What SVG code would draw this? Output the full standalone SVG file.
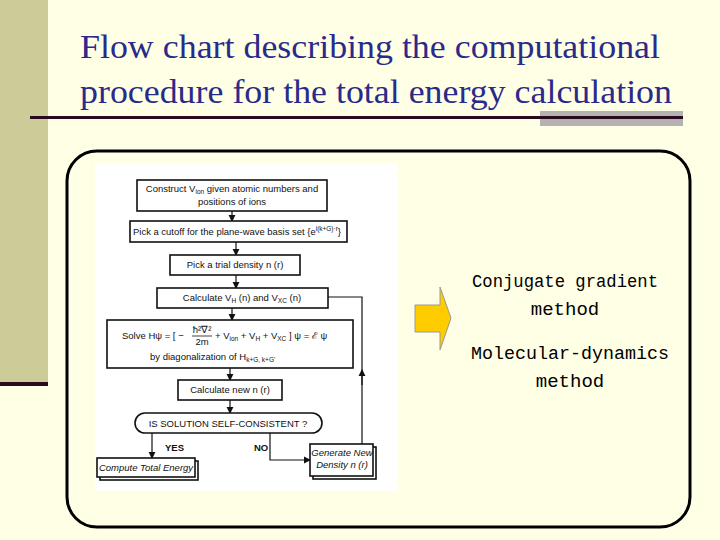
<svg xmlns="http://www.w3.org/2000/svg" width="720" height="540" viewBox="0 0 720 540">
<defs>
<style>
.t{font-family:"Liberation Serif",serif;font-size:34px;fill:#2a2a8a}
.f{font-family:"Liberation Sans",Arial,sans-serif;font-size:9.5px;fill:#111}
.s{font-size:6.5px}
.b{fill:#fff;stroke:#111;stroke-width:1.6}
.c{stroke:#111;stroke-width:1.2;fill:none}
.r{font-family:"Liberation Mono",monospace;font-size:19px;fill:#000}
</style>
<marker id="a" viewBox="0 0 8 8" refX="7" refY="4" markerWidth="6" markerHeight="6" orient="auto"><path d="M0,0L8,4L0,8z" fill="#111"/></marker>
</defs>
<rect width="720" height="540" fill="#ffffe6"/>
<rect x="0" y="0" width="48" height="385" fill="#cccc99"/>
<rect x="0" y="382" width="48" height="4" fill="#2b0a1e"/>
<rect x="540" y="111" width="143" height="15" fill="#b3b3b3"/>
<rect x="30" y="116" width="653" height="3" fill="#2b0a1e"/>
<text class="t" x="80" y="58" textLength="580" lengthAdjust="spacingAndGlyphs">Flow chart describing the computational</text>
<text class="t" x="80" y="103" textLength="592" lengthAdjust="spacingAndGlyphs">procedure for the total energy calculation</text>
<rect x="67" y="151" width="623" height="376" rx="30" fill="none" stroke="#000" stroke-width="3"/>
<rect x="95" y="163" width="303" height="328" fill="#fff"/>
<g id="connectors">
<path class="c" d="M232,211V221" marker-end="url(#a)"/>
<path class="c" d="M236,242V255" marker-end="url(#a)"/>
<path class="c" d="M236,275V288" marker-end="url(#a)"/>
<path class="c" d="M232,308V320" marker-end="url(#a)"/>
<path class="c" d="M230,368V380" marker-end="url(#a)"/>
<path class="c" d="M230,400V413" marker-end="url(#a)"/>
<path class="c" d="M152,433V458" marker-end="url(#a)"/>
<path class="c" d="M270,433V460H310" marker-end="url(#a)"/>
<path class="c" d="M362,444V297H328"/>
<path class="c" d="M362,385V370" marker-end="url(#a)"/>
</g>
<g id="n1"><rect class="b" x="137" y="180" width="190" height="31"/><text class="f" x="232" y="192" text-anchor="middle">Construct V<tspan class="s" dy="2">ion</tspan><tspan dy="-2"> given atomic numbers and</tspan></text><text class="f" x="232" y="205" text-anchor="middle">positions of ions</text></g>
<g id="n2"><rect class="b" x="130" y="221" width="217" height="21"/><text class="f" x="237" y="235" text-anchor="middle" textLength="208" lengthAdjust="spacingAndGlyphs">Pick a cutoff for the plane-wave basis set {e<tspan class="s" dy="-4">i(k+G)·r</tspan><tspan dy="4">}</tspan></text></g>
<g id="n3"><rect class="b" x="170" y="255" width="130" height="20"/><text class="f" x="235" y="268" text-anchor="middle">Pick a trial density n (r)</text></g>
<g id="n4"><rect class="b" x="157" y="288" width="171" height="20"/><text class="f" x="242" y="301" text-anchor="middle">Calculate V<tspan class="s" dy="2">H</tspan><tspan dy="-2"> (n) and V</tspan><tspan class="s" dy="2">XC</tspan><tspan dy="-2"> (n)</tspan></text></g>
<g id="n5"><rect class="b" x="107" y="320" width="246" height="48"/>
<text class="f" x="122" y="339">Solve  Hψ = [ −</text>
<text class="f" x="202" y="333" text-anchor="middle" font-size="8">ħ²∇²</text>
<line x1="192" y1="336" x2="212" y2="336" stroke="#111" stroke-width="0.8"/>
<text class="f" x="202" y="345" text-anchor="middle" font-size="8">2m</text>
<text class="f" x="215" y="339">+ V<tspan class="s" dy="2">ion</tspan><tspan dy="-2"> + V</tspan><tspan class="s" dy="2">H</tspan><tspan dy="-2"> + V</tspan><tspan class="s" dy="2">XC</tspan><tspan dy="-2"> ] ψ = ℰ ψ</tspan></text>
<text class="f" x="150" y="360">by diagonalization of H<tspan class="s" dy="2">k+G, k+G'</tspan></text></g>
<g id="n6"><rect class="b" x="178" y="380" width="104" height="20"/><text class="f" x="230" y="393" text-anchor="middle">Calculate new n (r)</text></g>
<g id="n7"><rect class="b" x="135" y="413" width="187" height="20" rx="10"/><text class="f" x="228" y="427" text-anchor="middle">IS SOLUTION SELF-CONSISTENT ?</text></g>
<text class="f" x="165" y="451" font-weight="bold">YES</text>
<text class="f" x="254" y="451" font-weight="bold">NO</text>
<g id="n8"><rect class="b" x="100" y="461" width="98" height="19"/><rect class="b" x="97" y="458" width="98" height="19"/><text class="f" x="146" y="471" text-anchor="middle" font-style="italic" font-size="9">Compute Total Energy</text></g>
<g id="n9"><rect class="b" x="313" y="447" width="63" height="32"/><rect class="b" x="310" y="444" width="63" height="32"/><text class="f" x="342" y="456" text-anchor="middle" font-style="italic" font-size="9">Generate New</text><text class="f" x="342" y="468" text-anchor="middle" font-style="italic" font-size="9">Density n (r)</text></g>
<g id="arrow"><path d="M415,305H440V287L451,318L440,350V332H415Z" fill="#ffcc00" stroke="#999" stroke-width="1"/></g>
<text class="r" x="565" y="287" text-anchor="middle" textLength="186" lengthAdjust="spacingAndGlyphs">Conjugate gradient</text>
<text class="r" x="565" y="315" text-anchor="middle">method</text>
<text class="r" x="570" y="359" text-anchor="middle" textLength="198" lengthAdjust="spacingAndGlyphs">Molecular-dynamics</text>
<text class="r" x="570" y="387" text-anchor="middle">method</text>
</svg>
